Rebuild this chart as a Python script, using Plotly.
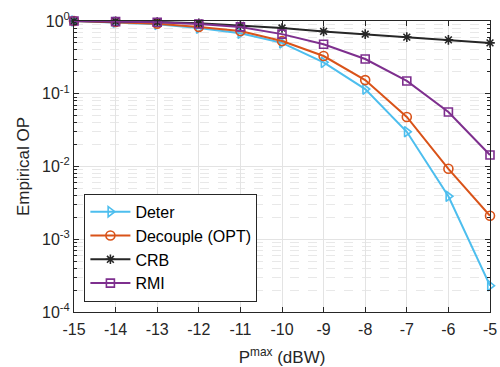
import plotly.graph_objects as go

x_vals = [-15, -14, -13, -12, -11, -10, -9, -8, -7, -6, -5]
x_ticktext = ["-15", "-14", "-13", "-12", "-11", "-10", "-9", "-8", "-7", "-6", "-5"]
deter = [1.0, 0.96, 0.90, 0.80, 0.68, 0.50, 0.27, 0.116, 0.030, 0.0039, 0.00023]
decouple = [1.0, 0.97, 0.92, 0.83, 0.73, 0.53, 0.33, 0.154, 0.048, 0.0093, 0.0021]
crb = [1.0, 0.99, 0.97, 0.93, 0.87, 0.80, 0.72, 0.66, 0.60, 0.55, 0.50]
rmi = [1.0, 0.98, 0.96, 0.91, 0.83, 0.66, 0.48, 0.30, 0.15, 0.056, 0.0144]

names = ["Deter", "Decouple (OPT)", "CRB", "RMI"]
series = [deter, decouple, crb, rmi]
colors = ["#4DBEEE", "#D95319", "#262626", "#7E2F8E"]
symbols = ["triangle-right-open", "circle-open", "asterisk-open", "square-open"]
sizes = [9, 9, 8, 8]

y_tickvals = [1e-4, 1e-3, 1e-2, 1e-1, 1]
y_ticktext = ["10<sup>-4</sup>", "10<sup>-3</sup>", "10<sup>-2</sup>", "10<sup>-1</sup>", "10<sup>0</sup>"]
y_minor = [m * 10.0 ** e for e in range(-4, 0) for m in range(2, 10)]

fig = go.Figure()
for n, s, c, m, sz in zip(names, series, colors, symbols, sizes):
    fig.add_trace(go.Scatter(
        x=x_vals, y=s, name=n, mode="lines+markers",
        line=dict(color=c, width=2),
        marker=dict(symbol=m, size=sz, color=c, line=dict(color=c, width=1.6)),
        cliponaxis=False,
    ))

font_family = "Liberation Sans, Arial"
axis_common = dict(
    showline=True, linecolor="#262626", linewidth=1, mirror="ticks",
    ticks="inside", ticklen=5, tickcolor="#262626",
    gridcolor="#E3E3E3", gridwidth=1,
    tickfont=dict(family=font_family, size=16, color="#262626"),
    zeroline=False, automargin=False,
)

fig.update_xaxes(
    range=[-15, -5], tickmode="array", tickvals=x_vals, ticktext=x_ticktext, **axis_common,
    ticklabelstandoff=3,
    title=dict(text="P<sup>max</sup> (dBW)", font=dict(family=font_family, size=17, color="#262626"), standoff=14),
)
fig.update_yaxes(
    type="log", range=[-4, 0], tickmode="array", tickvals=y_tickvals, ticktext=y_ticktext, **axis_common,
    minor=dict(tickmode="array", tickvals=y_minor, showgrid=True, gridcolor="#E8E8E8",
               griddash="dash", ticks="inside", ticklen=3, tickcolor="#262626"),
    title=dict(text="Empirical OP", font=dict(family=font_family, size=17, color="#262626"), standoff=8),
)

fig.update_layout(
    width=500, height=367,
    margin=dict(l=74, r=10, t=21, b=55),
    plot_bgcolor="white", paper_bgcolor="white",
    legend=dict(
        x=0.025, y=0.035, xanchor="left", yanchor="bottom",
        bgcolor="white", bordercolor="#262626", borderwidth=1,
        font=dict(family=font_family, size=16, color="#000000"),
        tracegroupgap=0, itemwidth=40,
    ),
)

fig.write_html("out.html", config={"displayModeBar": False},
               post_script="document.body.style.margin='0';document.body.style.overflow='hidden';")
